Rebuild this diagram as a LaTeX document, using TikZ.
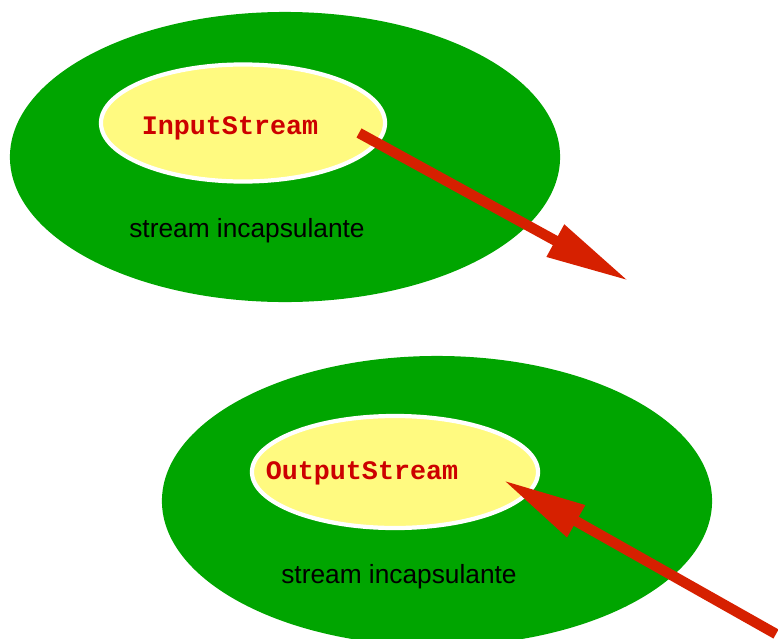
\documentclass[tikz,border=0pt]{standalone}
\usepackage{fontspec}
\setmainfont{Liberation Sans}
\setmonofont{Liberation Mono}
\usetikzlibrary{arrows.meta,shapes.geometric}
\definecolor{wrapgreen}{RGB}{0,165,0}
\definecolor{coreyellow}{RGB}{255,250,128}
\definecolor{namered}{RGB}{204,0,0}
\definecolor{flowred}{RGB}{214,32,0}

\begin{document}
\begin{tikzpicture}[x=0.025cm,y=-0.025cm,
  wrapper/.style={ellipse,fill=wrapgreen,minimum width=13.75cm,minimum height=7.25cm,inner sep=0pt},
  core/.style={ellipse,draw=white,line width=3pt,fill=coreyellow,inner sep=0pt},
  classname/.style={font=\ttfamily\bfseries\fontsize{19}{22}\selectfont,text=namered,inner sep=0pt},
  wrapname/.style={font=\fontsize{18.7}{22}\selectfont,inner sep=0pt},
  flow/.style={draw=flowred,line width=7.4pt,-{Triangle[length=2.1cm,width=0.85cm,fill=flowred]}}]
\useasboundingbox (0,0) rectangle (778,639);
% input side
\node[wrapper] (inwrap) at (285,157) {};
\node[core,minimum width=7.1cm,minimum height=2.925cm] (incore) at (243,123) {};
\node[classname] (inname) at (230,128) {InputStream};
\node[wrapname] (inlabel) at (247,231) {stream incapsulante};
\coordinate (infrom) at (359,133);
\coordinate (into) at (629,281);
\draw[flow] (infrom) -- (into);
% output side
\node[wrapper] (outwrap) at (437,501) {};
\node[core,minimum width=7.15cm,minimum height=2.8cm] (outcore) at (395,472) {};
\node[classname] (outname) at (362,473) {OutputStream};
\node[wrapname] (outlabel) at (399,577) {stream incapsulante};
\coordinate (outfrom) at (776,634);
\coordinate (outto) at (503,480);
\draw[flow] (outfrom) -- (outto);
\end{tikzpicture}
\end{document}
